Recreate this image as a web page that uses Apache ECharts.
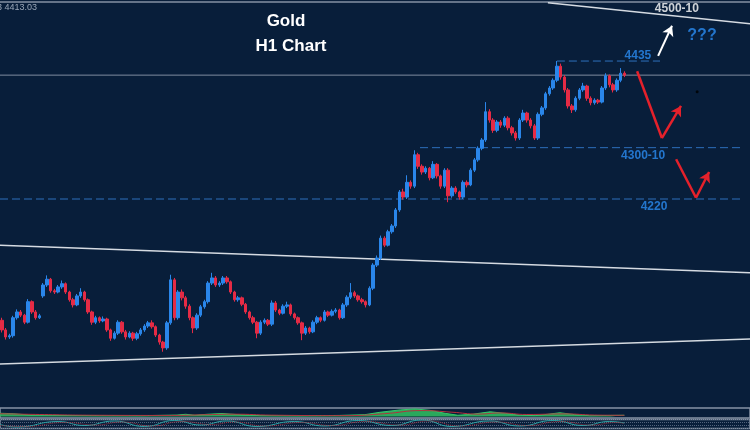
<!DOCTYPE html>
<html>
<head>
<meta charset="utf-8">
<title>Gold H1 Chart</title>
<script src="https://cdn.jsdelivr.net/npm/echarts@6/dist/echarts.min.js"></script>
<style>
  html, body { margin: 0; padding: 0; background: #081e3a; }
  #chart { width: 750px; height: 430px; }
</style>
</head>
<body>
<div id="chart"></div>
<script>
// H1 bars, each [open, close, low, high]
var candles = [
  [4031,4016,4012,4035],[4016,4005,4001,4019],[4005,4007,4002,4010],[4007,4035,4004,4038],
  [4035,4044,4032,4048],[4044,4039,4036,4047],[4039,4028,4025,4041],[4028,4060,4026,4064],
  [4060,4044,4041,4062],[4044,4035,4032,4047],[4035,4038,4033,4041],[4069,4086,4066,4089],
  [4086,4095,4083,4101],[4095,4077,4074,4097],[4077,4075,4072,4080],[4075,4083,4073,4086],
  [4083,4088,4080,4093],[4088,4075,4072,4090],[4075,4063,4060,4077],[4063,4055,4051,4066],
  [4055,4069,4053,4072],[4069,4075,4066,4081],[4075,4063,4060,4077],[4063,4044,4041,4065],
  [4044,4028,4024,4046],[4028,4035,4025,4038],[4035,4030,4027,4037],[4030,4033,4028,4037],
  [4033,4016,4013,4035],[4016,4003,3999,4018],[4003,4011,4001,4014],[4011,4028,4008,4031],
  [4028,4013,4010,4030],[4013,4005,4001,4016],[4005,4011,4003,4014],[4011,4003,3999,4013],
  [4003,4010,4000,4013],[4010,4016,4007,4019],[4016,4022,4013,4025],[4022,4027,4019,4030],
  [4027,4021,4018,4031],[4021,4008,4005,4023],[4008,3997,3993,4010],[3997,3988,3982,3999],
  [3988,4027,3985,4030],[4027,4094,4024,4102],[4094,4035,4031,4097],[4035,4075,4032,4078],
  [4075,4066,4062,4079],[4066,4053,4049,4069],[4053,4035,4031,4056],[4035,4019,4011,4037],
  [4019,4039,4016,4042],[4039,4052,4036,4055],[4052,4060,4049,4063],[4060,4089,4057,4092],
  [4089,4097,4086,4105],[4097,4086,4083,4100],[4086,4089,4083,4092],[4089,4097,4086,4100],
  [4097,4091,4088,4100],[4091,4075,4072,4093],[4075,4063,4060,4077],[4063,4066,4060,4069],
  [4066,4056,4053,4068],[4056,4044,4041,4058],[4044,4035,4032,4046],[4035,4028,4025,4038],
  [4028,4011,4003,4030],[4011,4028,4008,4031],[4028,4031,4025,4034],[4031,4025,4022,4033],
  [4025,4058,4022,4062],[4058,4047,4044,4061],[4047,4042,4039,4049],[4042,4053,4040,4056],
  [4053,4055,4050,4060],[4055,4041,4038,4057],[4041,4035,4032,4043],[4035,4027,4024,4037],
  [4027,4011,4000,4029],[4011,4019,4008,4022],[4019,4013,4010,4021],[4013,4028,4011,4031],
  [4028,4035,4025,4038],[4035,4031,4028,4037],[4031,4044,4029,4047],[4044,4039,4036,4046],
  [4039,4045,4037,4048],[4045,4047,4042,4050],[4047,4035,4032,4049],[4035,4055,4033,4058],
  [4055,4067,4052,4070],[4067,4074,4064,4089],[4074,4069,4066,4077],[4069,4063,4060,4071],
  [4063,4060,4057,4066],[4060,4055,4051,4062],[4055,4081,4053,4084],[4081,4117,4078,4120],
  [4117,4128,4114,4132],[4128,4159,4125,4163],[4159,4148,4145,4162],[4148,4169,4146,4172],
  [4169,4178,4166,4181],[4178,4203,4175,4206],[4203,4231,4200,4234],[4231,4223,4219,4236],
  [4223,4246,4220,4257],[4246,4240,4236,4249],[4240,4289,4237,4296],[4289,4271,4267,4292],
  [4271,4262,4258,4274],[4262,4268,4259,4271],[4268,4253,4249,4270],[4253,4274,4251,4279],
  [4274,4256,4252,4276],[4256,4240,4236,4258],[4240,4265,4237,4268],[4265,4225,4215,4268],
  [4225,4237,4222,4240],[4237,4231,4228,4240],[4231,4223,4219,4233],[4223,4246,4220,4249],
  [4246,4242,4238,4249],[4242,4265,4240,4268],[4265,4281,4262,4284],[4281,4299,4278,4302],
  [4299,4312,4296,4315],[4312,4356,4309,4371],[4356,4343,4339,4360],[4343,4327,4323,4346],
  [4327,4340,4324,4343],[4340,4335,4331,4343],[4335,4346,4332,4349],[4346,4331,4327,4349],
  [4331,4323,4319,4334],[4323,4315,4311,4326],[4315,4343,4312,4346],[4343,4354,4340,4359],
  [4354,4343,4339,4356],[4343,4334,4330,4346],[4334,4315,4312,4337],[4315,4352,4312,4355],
  [4352,4362,4349,4365],[4362,4384,4359,4387],[4384,4393,4381,4396],[4393,4405,4390,4408],
  [4405,4427,4402,4435],[4427,4410,4406,4431],[4410,4390,4386,4413],[4390,4365,4361,4393],
  [4365,4359,4354,4368],[4359,4377,4356,4380],[4377,4390,4374,4393],[4390,4396,4387,4401],
  [4396,4377,4373,4398],[4377,4370,4366,4380],[4370,4374,4367,4377],[4374,4371,4368,4376],
  [4371,4393,4369,4396],[4393,4412,4390,4416],[4412,4398,4394,4414],[4398,4390,4386,4401],
  [4390,4405,4387,4408],[4405,4416,4402,4424],[4416,4413,4410,4419]
];
var slots = 200; // bar slots incl. the empty space right of the last bar
var lastPrice = 4413.03;

// drawn levels (price, from bar, to bar)
var levelPrices = [4435, 4300, 4220];
var levelFrom = [148, 111.5, -0.5];
var levelTo = [175.5, 197.6, 197.6];

// trend lines as [bar, price] end points
var channelUpper = [[-0.5, 4148], [199.5, 4105]];
var channelLower = [[-0.5, 3963], [199.5, 4002]];
var topTrend = [[145.6, 4526], [199.5, 4493]];

// arrows as [bar, price] points
var arrowUp = [[175.0, 4443], [178.7, 4490]];
var arrowDownA = [[169.4, 4419], [176.0, 4315], [181.1, 4365]];
var arrowDownB = [[179.8, 4282], [185.1, 4222], [188.6, 4262]];
var blackDot = [[185.4, 4387]];

// price notes
var noteTexts = ['4435', '4300-10', '4220', '4500-10', '???'];
var notePoints = [[169.6, 4444], [171.0, 4287], [173.9, 4208], [180.0, 4516], [186.7, 4474]];

// lower panels
var histPoints = [[-0.5,3.5],[3,3],[7.5,1.6],[15.5,1.2],[26,1],[37,0.9],[46.7,1.6],[49,2.4],[51.5,1.4],
  [54.7,2.4],[58.7,3.2],[63.5,1.9],[68.8,1],[79.5,0.8],[90,1.2],[96.8,2],[100.8,4.5],[106.2,7],
  [110.2,8],[114.2,6.5],[118.2,3.4],[121.6,1.4],[125.4,2.4],[130.2,5],[134.2,3.4],[138.2,1.4],[142.2,1],
  [145.6,2.4],[148.8,4],[152.8,2],[156.8,0.9],[162.2,1.2],[166,1.4]];
var signalPoints = [[-0.5,3],[10,2.2],[25,1.4],[45,1.2],[55,2],[62,2.5],[72,1.5],[92,1],
  [102,3],[112,6.3],[120,4.6],[127,2.6],[133,3.8],[140,2.2],[150,2.8],[158,1.6],[166,1.3]];
var oscMain = [[-0.5,40],[4,15],[15,70],[22,30],[30,75],[38,20],[46,80],[53,35],[60,75],[68,20],
  [78,70],[86,25],[95,80],[104,30],[112,85],[120,20],[130,75],[138,25],[147,80],[155,30],[162,70],[166,55]];
var oscSignal = [[-0.5,30],[6,20],[17,60],[25,35],[32,65],[40,25],[48,70],[56,40],[62,65],[70,25],
  [80,60],[88,30],[97,70],[106,35],[114,75],[122,25],[132,65],[140,30],[149,70],[157,35],[164,60],[166,50]];

var UP = '#2a86ea', DOWN = '#e52b45', LEVEL = '#2d6fbb', NOTE = '#2a8cf2';
var FONT = '"Liberation Sans", Arial, sans-serif';

var slotNames = [];
for (var i = 0; i < slots; i++) slotNames.push(String(i));

function plainLine(pts, color, width, dash) {
  return {
    type: 'line', xAxisIndex: 1, yAxisIndex: 0, data: pts, symbol: 'none', silent: true,
    lineStyle: { color: color, width: width, type: dash ? [8, 4] : 'solid' }, z: 3
  };
}

function arrowSeries(pts, color, width) {
  var segs = [];
  for (var k = 0; k < pts.length - 1; k++) {
    var last = k === pts.length - 2;
    segs.push([
      { coord: pts[k], symbol: 'none' },
      { coord: pts[k + 1], symbol: last ? 'arrow' : 'none', symbolSize: last ? [9, 10] : 0 }
    ]);
  }
  return {
    type: 'line', xAxisIndex: 1, yAxisIndex: 0, data: [], silent: true,
    markLine: {
      silent: true, animation: false, label: { show: false },
      lineStyle: { color: color, width: width, type: 'solid' },
      emphasis: { disabled: true },
      data: segs
    },
    z: 6
  };
}

function noteLabel(text) {
  var white = text === '4500-10', big = text === '???';
  return {
    show: true, position: 'inside', formatter: text,
    color: white ? '#ffffff' : NOTE, fontWeight: 'bold',
    fontSize: big ? 16 : 12, fontFamily: FONT
  };
}

var series = [
  {
    type: 'candlestick', xAxisIndex: 0, yAxisIndex: 0, data: candles, barWidth: '78%',
    itemStyle: { color: UP, color0: DOWN, borderColor: UP, borderColor0: DOWN, borderWidth: 1 },
    z: 4
  },
  plainLine(channelUpper, '#d5dbe2', 1.5),
  plainLine(channelLower, '#d5dbe2', 1.5),
  plainLine(topTrend, '#d5dbe2', 1.5),
  plainLine([[-0.5, lastPrice], [199.5, lastPrice]], '#7f8ca0', 1)
];
levelPrices.forEach(function (p, k) {
  series.push(plainLine([[levelFrom[k], p], [levelTo[k], p]], LEVEL, 1, true));
});
series.push(arrowSeries(arrowUp, '#ffffff', 2));
series.push(arrowSeries(arrowDownA, '#e5212b', 2.5));
series.push(arrowSeries(arrowDownB, '#e5212b', 2.5));
series.push({
  type: 'scatter', xAxisIndex: 1, yAxisIndex: 0, data: blackDot, symbolSize: 3,
  itemStyle: { color: '#000000' }, silent: true, z: 6
});
series.push({
  type: 'scatter', xAxisIndex: 1, yAxisIndex: 0, symbolSize: 0, silent: true, z: 7,
  data: notePoints.map(function (p, k) { return { value: p, label: noteLabel(noteTexts[k]) }; })
});
// histogram panel
series.push({
  type: 'line', xAxisIndex: 2, yAxisIndex: 1, data: histPoints, symbol: 'none', silent: true,
  lineStyle: { color: '#35c86a', width: 1 }, areaStyle: { color: '#2fb860', origin: 0, opacity: 0.9 }
});
series.push({
  type: 'line', xAxisIndex: 2, yAxisIndex: 1, data: signalPoints, symbol: 'none', silent: true, smooth: true,
  lineStyle: { color: '#b5303e', width: 1 }
});
// oscillator panel
series.push({
  type: 'line', xAxisIndex: 3, yAxisIndex: 2, data: oscMain, symbol: 'none', silent: true, smooth: true,
  lineStyle: { color: '#2ea3a6', width: 1 }
});
series.push({
  type: 'line', xAxisIndex: 3, yAxisIndex: 2, data: oscSignal, symbol: 'none', silent: true, smooth: true,
  lineStyle: { color: '#a8323f', width: 1, type: 'dotted' }
});

var hidden = { show: false };
var chart = echarts.init(document.getElementById('chart'));
chart.setOption({
  animation: false,
  backgroundColor: '#081e3a',
  grid: [
    { left: 0, right: 0, top: 2, height: 403 },
    { left: -2, right: -2, top: 408, height: 10, show: true, borderColor: '#8592a5', borderWidth: 1.5, backgroundColor: 'transparent' },
    { left: -2, right: -2, top: 419.5, height: 9, show: true, borderColor: '#8592a5', borderWidth: 1.5, backgroundColor: 'transparent' }
  ],
  xAxis: [
    { type: 'category', gridIndex: 0, data: slotNames, boundaryGap: true, show: false },
    { type: 'value', gridIndex: 0, min: -0.5, max: slots - 0.5, position: 'top',
      axisLine: { show: true, onZero: false, lineStyle: { color: '#8592a5', width: 1.5 } },
      axisTick: hidden, axisLabel: hidden, splitLine: hidden },
    { type: 'value', gridIndex: 1, min: -0.5, max: slots - 0.5, show: false },
    { type: 'value', gridIndex: 2, min: -0.5, max: slots - 0.5, show: false }
  ],
  yAxis: [
    { type: 'value', gridIndex: 0, min: 3899, max: 4527, show: false, splitLine: hidden },
    { type: 'value', gridIndex: 1, min: -1.5, max: 9, show: false, splitLine: hidden },
    { type: 'value', gridIndex: 2, min: 0, max: 90, interval: 30,
      axisLine: hidden, axisTick: hidden, axisLabel: hidden,
      splitLine: { show: true, lineStyle: { color: '#52637b', type: 'dotted', width: 1 } } }
  ],
  graphic: [
    { type: 'text', silent: true, z: 10,
      style: { text: '3 4413.03', x: -3, y: 3, fill: '#9aa7b8', fontSize: 9, fontFamily: FONT } },
    { type: 'text', silent: true, z: 10,
      style: { text: 'Gold', x: 286, y: 21, textAlign: 'center', textVerticalAlign: 'middle',
        fill: '#ffffff', fontSize: 17, fontWeight: 'bold', fontFamily: FONT } },
    { type: 'text', silent: true, z: 10,
      style: { text: 'H1 Chart', x: 291, y: 46, textAlign: 'center', textVerticalAlign: 'middle',
        fill: '#ffffff', fontSize: 17, fontWeight: 'bold', fontFamily: FONT } }
  ],
  series: series
});
</script>
</body>
</html>
